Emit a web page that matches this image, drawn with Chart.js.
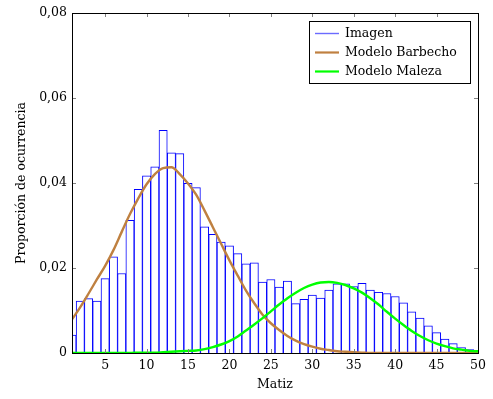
<!DOCTYPE html>
<html>
<head>
<meta charset="utf-8">
<script src="https://cdn.jsdelivr.net/npm/chart.js@4.4.1/dist/chart.umd.min.js"></script>
<style>
  html, body { margin: 0; padding: 0; background: #fff; }
  #wrap { width: 493px; height: 399px; position: relative; }
</style>
</head>
<body>
<div id="wrap"><canvas id="chart"></canvas></div>
<script>
// Matiz values (bins) and tick positions
const matiz = [
  1, 2, 3, 4, 5, 6, 7, 8, 9, 10, 11, 12, 13, 14, 15, 16, 17, 18, 19, 20, 21, 22, 23, 24, 25,
  26, 27, 28, 29, 30, 31, 32, 33, 34, 35, 36, 37, 38, 39, 40, 41, 42, 43, 44, 45, 46, 47, 48, 49, 50
];
const xTicks = [5, 10, 15, 20, 25, 30, 35, 40, 45, 50];
const yTicks = [0, 0.02, 0.04, 0.06, 0.08];

// histogram of the image
const imagen = [
  0.0042, 0.0122, 0.0128, 0.0122, 0.0175, 0.0226, 0.0187, 0.0312, 0.0385, 0.0417,
  0.0438, 0.0524, 0.0471, 0.0469, 0.0399, 0.0389, 0.0297, 0.0279, 0.0261, 0.0252,
  0.0234, 0.0210, 0.0212, 0.0167, 0.0173, 0.0155, 0.0169, 0.0116, 0.0126, 0.0136,
  0.0129, 0.0148, 0.0163, 0.0163, 0.0156, 0.0164, 0.0148, 0.0143, 0.0140, 0.0133,
  0.0118, 0.0097, 0.0082, 0.0064, 0.0048, 0.0033, 0.0022, 0.0013, 0.0008, 0.0005
];

// fitted models
const barbecho = [
  0.0079, 0.0108, 0.0140, 0.0173, 0.0205, 0.0242, 0.0285, 0.0327, 0.0364, 0.0397,
  0.0421, 0.0435, 0.0437, 0.0421, 0.0399, 0.0372, 0.0335, 0.0296, 0.0257, 0.0218,
  0.0182, 0.0147, 0.0117, 0.0090, 0.0070, 0.0054, 0.0040, 0.0029, 0.0021, 0.0015,
  0.0010, 0.0007, 0.0004, 0.0003, 0.0002, 0.0001, 0, 0, 0, 0,
  0, 0, 0, 0, 0, 0, 0, 0, 0, 0
];
const maleza = [
  0, 0, 0, 0, 0, 0, 0, 0, 0.0001, 0.0001,
  0.0001, 0.0002, 0.0003, 0.0004, 0.0005, 0.0006, 0.0009, 0.0014, 0.0020, 0.0028,
  0.0039, 0.0053, 0.0067, 0.0082, 0.0098, 0.0114, 0.0129, 0.0142, 0.0153, 0.0161,
  0.0166, 0.0167, 0.0165, 0.0160, 0.0152, 0.0142, 0.0129, 0.0114, 0.0097, 0.0081,
  0.0066, 0.0052, 0.0040, 0.0030, 0.0022, 0.0016, 0.0011, 0.0008, 0.0005, 0.0004
];

const FONT = '"DejaVu Serif", "Liberation Serif", serif';
const pts = arr => matiz.map((x, i) => ({x: x, y: arr[i]}));
const fmtY = v => v === 0 ? '0' : v.toFixed(2).replace('.', ',');

// frame with inward ticks, like pgfplots
const framePlugin = {
  id: 'frame',
  afterDatasetsDraw(chart) {
    const {ctx, chartArea: a, scales} = chart;
    ctx.save();
    ctx.strokeStyle = '#808080';
    ctx.lineWidth = 1;
    ctx.beginPath();
    xTicks.forEach(t => {
      const px = Math.round(scales.x.getPixelForValue(t)) + 0.5;
      ctx.moveTo(px, a.bottom); ctx.lineTo(px, a.bottom - 4);
      ctx.moveTo(px, a.top); ctx.lineTo(px, a.top + 4);
    });
    yTicks.forEach(t => {
      const py = Math.round(scales.y.getPixelForValue(t)) + 0.5;
      ctx.moveTo(a.left, py); ctx.lineTo(a.left + 4, py);
      ctx.moveTo(a.right, py); ctx.lineTo(a.right - 4, py);
    });
    ctx.stroke();
    ctx.strokeStyle = '#000';
    ctx.strokeRect(Math.round(a.left) + 0.5, Math.round(a.top) + 0.5,
      Math.round(a.right - a.left), Math.round(a.bottom - a.top));
    ctx.restore();
  }
};

// boxed legend in the top right corner
const legendPlugin = {
  id: 'boxLegend',
  afterDraw(chart) {
    const {ctx, chartArea: a} = chart;
    const right = a.right - 8, top = a.top + 8, w = 161, h = 62;
    const left = right - w;
    ctx.save();
    ctx.fillStyle = '#fff';
    ctx.fillRect(left, top, w, h);
    ctx.strokeStyle = '#000';
    ctx.lineWidth = 1;
    ctx.strokeRect(Math.round(left) + 0.5, Math.round(top) + 0.5, w, h);
    ctx.font = '12.5px ' + FONT;
    ctx.textBaseline = 'middle';
    ctx.fillStyle = '#000';
    chart.data.datasets.forEach((ds, i) => {
      const y = top + 12.5 + i * 19;
      ctx.strokeStyle = ds.legendColor || ds.borderColor;
      ctx.lineWidth = ds.type === 'line' ? 2.2 : 1.4;
      ctx.beginPath();
      ctx.moveTo(left + 6, y); ctx.lineTo(left + 30, y);
      ctx.stroke();
      ctx.fillText(ds.label, left + 36, y + 0.5);
    });
    ctx.restore();
  }
};

Chart.defaults.color = '#000';
Chart.defaults.font.family = FONT;

new Chart(document.getElementById('chart'), {
  type: 'bar',
  data: {
    datasets: [
      {
        label: 'Imagen',
        data: pts(imagen),
        backgroundColor: '#ffffff',
        borderColor: '#0000ff',
        legendColor: '#6b6bff',
        borderWidth: 1,
        barPercentage: 1,
        categoryPercentage: 1,
        clip: 0,
        order: 2
      },
      {
        type: 'line',
        label: 'Modelo Barbecho',
        data: pts(barbecho),
        borderColor: '#bf8040',
        borderWidth: 2.4,
        pointRadius: 0,
        cubicInterpolationMode: 'monotone',
        order: 1
      },
      {
        type: 'line',
        label: 'Modelo Maleza',
        data: pts(maleza),
        borderColor: '#00ff00',
        borderWidth: 2.4,
        pointRadius: 0,
        cubicInterpolationMode: 'monotone',
        order: 0
      }
    ]
  },
  options: {
    responsive: true,
    maintainAspectRatio: false,
    animation: false,
    layout: { padding: { top: 13, right: 15, left: 0, bottom: 0 } },
    plugins: {
      legend: { display: false },
      tooltip: { enabled: false }
    },
    scales: {
      x: {
        type: 'linear',
        min: 1,
        max: 50,
        offset: false,
        grid: { display: false, drawTicks: false },
        border: { display: false },
        afterFit: s => { s.height = 46; },
        afterBuildTicks: s => { s.ticks = xTicks.map(v => ({value: v})); },
        ticks: { padding: 5, font: { size: 12.5 }, maxRotation: 0, autoSkip: false },
        title: { display: true, text: 'Matiz', font: { size: 12.5 }, padding: { top: 4, bottom: 7 } }
      },
      y: {
        min: 0,
        max: 0.08,
        grid: { display: false, drawTicks: false },
        border: { display: false },
        afterFit: s => { s.width = 72; },
        afterBuildTicks: s => { s.ticks = yTicks.map(v => ({value: v})); },
        ticks: { padding: 5, font: { size: 12.5 }, callback: v => fmtY(v) },
        title: { display: true, text: 'Proporción de ocurrencia', font: { size: 12.5 }, padding: { top: 14, bottom: 0 } }
      }
    }
  },
  plugins: [framePlugin, legendPlugin]
});
</script>
</body>
</html>
